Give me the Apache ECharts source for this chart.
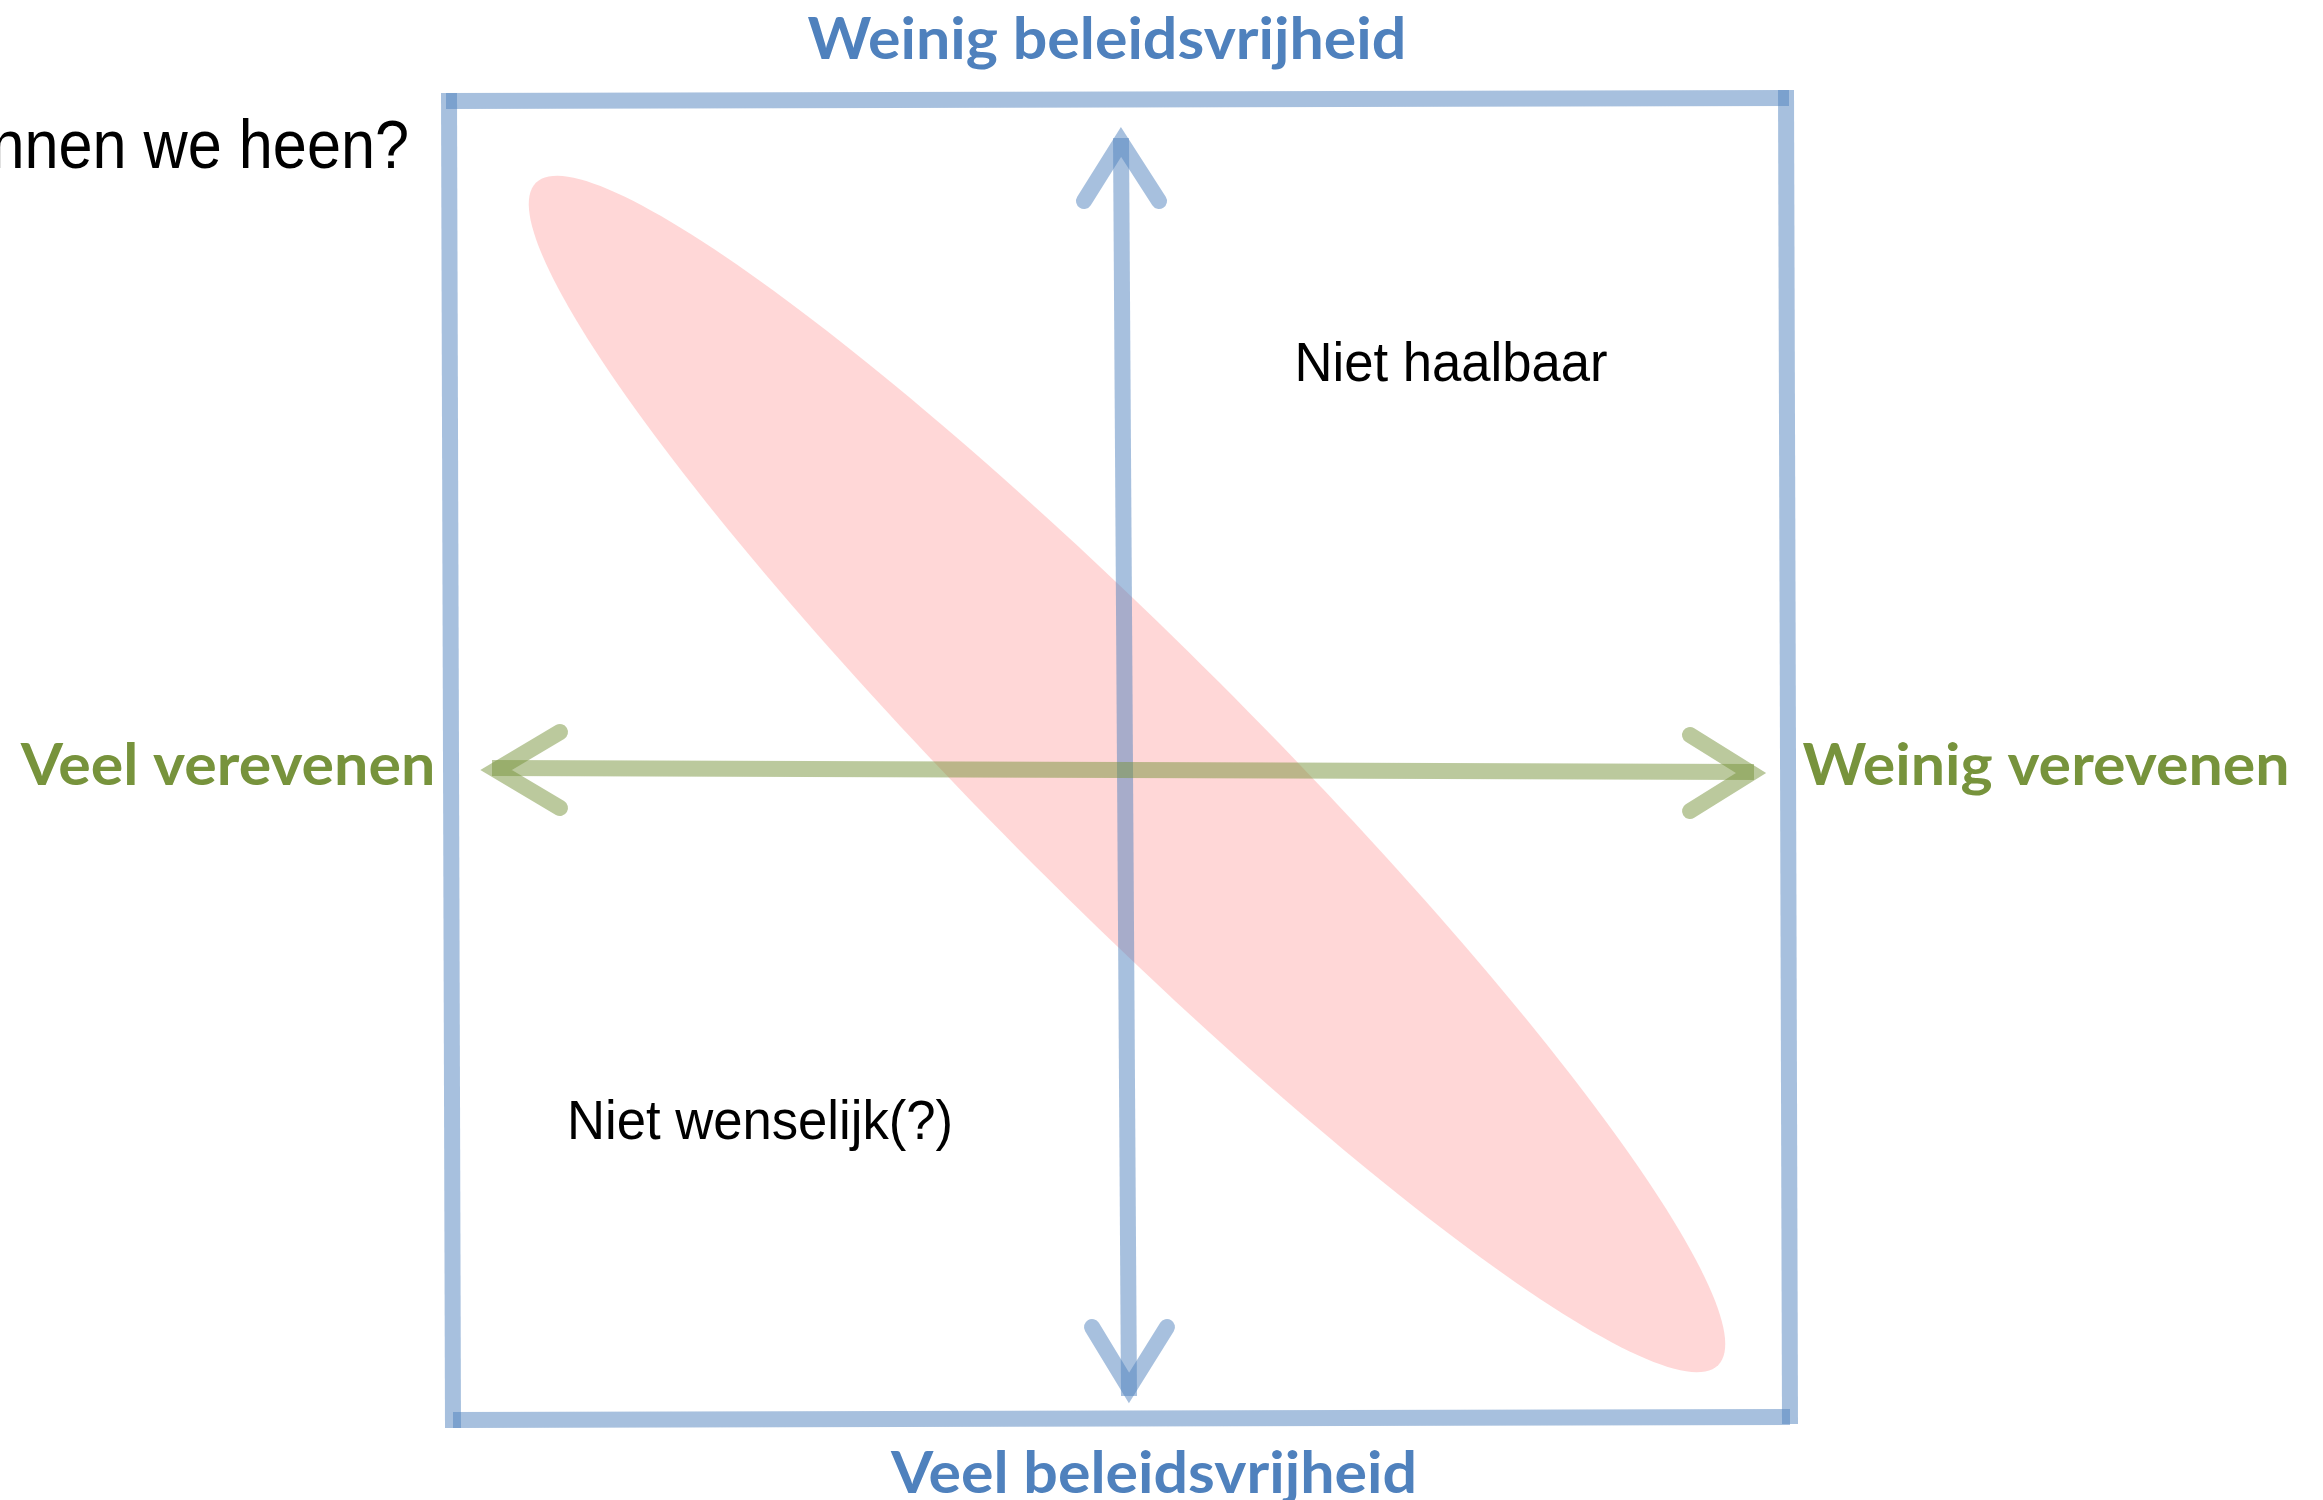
<!DOCTYPE html>
<html style="height: 100%">
<head>
    <meta charset="utf-8">
    <script src="https://cdn.jsdelivr.net/npm/echarts@6/dist/echarts.min.js"></script>
</head>
<body style="height: 100%; margin: 0; background: #ffffff">
<div id="container" style="width: 2323px; height: 1500px"></div>

<script type="text/javascript">
    // everything is placed in the picture's own units: x 0..2323, y 0..1500 counted from the top
    var boxTop = [[446, 101], [1789, 98]];
    var boxRight = [[1786, 90], [1790, 1424]];
    var boxBottom = [[453, 1420], [1790, 1417]];
    var boxLeft = [[449, 93], [453, 1428]];

    var vertShaft = [[1121, 138], [1129, 1396]];
    var vertHeadTop = [[1084, 201], [1121, 142], [1159, 201]];
    var vertHeadBottom = [[1092, 1327], [1129, 1388], [1167, 1327]];

    var horShaft = [[492, 768], [1754, 772]];
    var horHeadLeft = [[560, 732], [496, 770], [560, 808]];
    var horHeadRight = [[1690, 735], [1751, 773], [1690, 811]];

    // the pink zone: centre, half axes, tilt (degrees, clockwise on screen)
    var zoneCentre = [1127, 774];
    var zoneAxes = [836, 130];
    var zoneTilt = 45;

    var blue = '#4F81BD';
    var green = '#77933C';

    var dom = document.getElementById("container");
    var myChart = echarts.init(dom, null, {renderer: 'canvas'});

    function stroke(data, color, cap) {
        return {
            type: 'line',
            data: data,
            symbol: 'none',
            silent: true,
            z: 3,
            lineStyle: {
                color: color,
                width: 16,
                opacity: 0.5,
                cap: cap,
                join: 'miter',
                miterLimit: 10
            }
        };
    }

    // the original text is a bit squeezed sideways, hence scaleX
    function label(text, x, y, font, color, sx, align) {
        return {
            type: 'text',
            x: x,
            y: y,
            scaleX: sx,
            z: 10,
            style: {
                text: text,
                font: font,
                fill: color,
                align: align || 'center',
                verticalAlign: 'middle'
            }
        };
    }

    var calibriLike = 'bold 58px Lato';
    var arialLike = '56px "Liberation Sans"';

    var option = {
        animation: false,
        backgroundColor: '#ffffff',
        grid: {left: 0, right: 0, top: 0, bottom: 0},
        xAxis: {type: 'value', min: 0, max: 2323, show: false},
        yAxis: {type: 'value', min: 0, max: 1500, inverse: true, show: false},
        series: [
            {
                type: 'custom',
                silent: true,
                z: 1,
                data: [zoneCentre],
                renderItem: function (params, api) {
                    var phi = zoneTilt * Math.PI / 180;
                    var pts = [];
                    for (var i = 0; i < 240; i++) {
                        var t = i / 240 * Math.PI * 2;
                        var ex = zoneAxes[0] * Math.cos(t), ey = zoneAxes[1] * Math.sin(t);
                        pts.push(api.coord([
                            api.value(0) + ex * Math.cos(phi) - ey * Math.sin(phi),
                            api.value(1) + ex * Math.sin(phi) + ey * Math.cos(phi)
                        ]));
                    }
                    return {type: 'polygon', shape: {points: pts}, style: {fill: '#FFD7D7'}};
                }
            },
            stroke(boxTop, blue, 'butt'),
            stroke(boxRight, blue, 'butt'),
            stroke(boxBottom, blue, 'butt'),
            stroke(boxLeft, blue, 'butt'),
            stroke(vertShaft, blue, 'butt'),
            stroke(vertHeadTop, blue, 'round'),
            stroke(vertHeadBottom, blue, 'round'),
            stroke(horShaft, green, 'butt'),
            stroke(horHeadLeft, green, 'round'),
            stroke(horHeadRight, green, 'round')
        ],
        graphic: [
            label('kunnen we heen?', 409, 149, '68px "Liberation Sans"', '#000000', 0.9, 'right'),
            label('Weinig beleidsvrijheid', 1107, 40, calibriLike, blue, 1.05),
            label('Veel beleidsvrijheid', 1154, 1474, calibriLike, blue, 1.05),
            label('Veel verevenen', 228, 766, calibriLike, green, 1.05),
            label('Weinig verevenen', 2046, 766, calibriLike, green, 1.05),
            label('Niet haalbaar', 1451, 366, arialLike, '#000000', 0.94),
            label('Niet wenselijk(?)', 760, 1124, arialLike, '#000000', 0.94)
        ]
    };
    myChart.setOption(option);
</script>
</body>
</html>
